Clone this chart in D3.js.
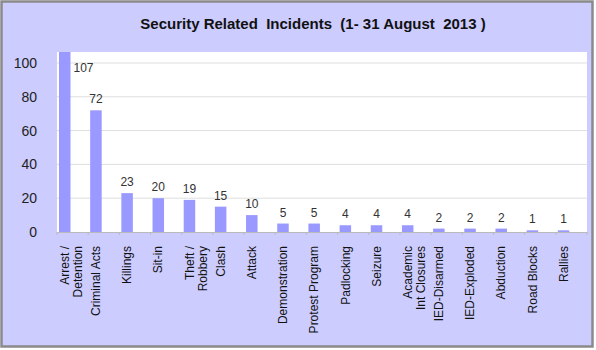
<!DOCTYPE html>
<html>
<head>
<meta charset="utf-8">
<script src="https://cdn.jsdelivr.net/npm/d3@7"></script>
<style>
  body { margin: 0; background: #fff; }
  text { font-family: "Liberation Sans", Arial, sans-serif; }
</style>
</head>
<body>
<svg id="chart"></svg>
<script>
// categories (multi-line labels split on |)
var categories = ['Arrest /|Detention', 'Criminal Acts', 'Killings', 'Sit-in', 'Theft /|Robbery',
  'Clash', 'Attack', 'Demonstration', 'Protest Program', 'Padlocking', 'Seizure',
  'Academic|Int Closures', 'IED-Disarmed', 'IED-Exploded', 'Abduction', 'Road Blocks', 'Rallies'];
var incidents = [107, 72, 23, 20, 19, 15, 10, 5, 5, 4, 4, 4, 2, 2, 2, 1, 1];
var y_ticks = [0, 20, 40, 60, 80, 100];
var title = 'Security Related  Incidents  (1- 31 August  2013 )';

var width = 596, height = 350;
var plot_l = 57, plot_r = 587, plot_t = 52, plot_b = 232;

var svg = d3.select('#chart').attr('width', width).attr('height', height);

// frame
svg.append('rect')
  .attr('x', 1.5).attr('y', 1.5)
  .attr('width', 591).attr('height', 345)
  .style('fill', '#ccccff')
  .style('stroke', '#8a8a8a')
  .style('stroke-width', 2.5);

svg.append('text')
  .attr('x', 313).attr('y', 29)
  .attr('text-anchor', 'middle')
  .style('font-size', '15px')
  .style('font-weight', 'bold')
  .style('white-space', 'pre')
  .style('fill', '#111')
  .text(title);

var x = d3.scaleBand().domain(categories).range([plot_l, plot_r]).padding(0);
var y = d3.scaleLinear().domain([0, 106.5]).range([plot_b, plot_t]);

// plot area
svg.append('rect')
  .attr('x', plot_l).attr('y', plot_t)
  .attr('width', plot_r - plot_l).attr('height', plot_b - plot_t)
  .style('fill', '#fff');

svg.append('clipPath').attr('id', 'plotclip')
  .append('rect')
  .attr('x', plot_l).attr('y', plot_t)
  .attr('width', plot_r - plot_l).attr('height', plot_b - plot_t);

// grid
svg.selectAll('.grid')
  .data(y_ticks.filter(d => d > 0))
  .enter()
  .append('line')
    .attr('class', 'grid')
    .attr('x1', plot_l).attr('x2', plot_r)
    .attr('y1', d => y(d)).attr('y2', d => y(d))
    .style('stroke', '#dedede')
    .style('stroke-width', 1);

// y axis labels
svg.selectAll('.ylab')
  .data(y_ticks)
  .enter()
  .append('text')
    .attr('class', 'ylab')
    .attr('x', 37)
    .attr('y', d => y(d))
    .attr('dy', '0.36em')
    .attr('text-anchor', 'end')
    .style('font-size', '14px')
    .style('fill', '#222')
    .text(d => d);

var bar_off = 2, bar_w = 11.5;

svg.append('g').attr('clip-path', 'url(#plotclip)')
  .selectAll('.bar')
  .data(categories)
  .enter()
  .append('rect')
    .attr('class', 'bar')
    .attr('x', d => x(d) + bar_off)
    .attr('width', bar_w)
    .attr('y', (d, i) => y(incidents[i]))
    .attr('height', (d, i) => plot_b - y(incidents[i]))
    .style('fill', '#9999ff');

// x axis line + ticks
var xaxis = svg.append('g')
  .attr('transform', 'translate(0,' + plot_b + ')')
  .call(d3.axisBottom(x).tickSize(0).tickFormat(''));
xaxis.select('.domain').style('stroke', '#bbb');
xaxis.selectAll('.tk')
  .data(categories.concat(['end']))
  .enter()
  .append('line')
    .attr('class', 'tk')
    .attr('x1', (d, i) => plot_l + i * x.step())
    .attr('x2', (d, i) => plot_l + i * x.step())
    .attr('y1', 0).attr('y2', 3)
    .style('stroke', '#bbb');

// value labels (a bar taller than the axis gets its label beside it)
var ymax = y.domain()[1];
svg.selectAll('.val')
  .data(categories)
  .enter()
  .append('text')
    .attr('class', 'val')
    .attr('x', (d, i) => incidents[i] > ymax ? x(d) + bar_off + bar_w + 3 : x(d) + bar_off + bar_w / 2)
    .attr('y', (d, i) => incidents[i] > ymax ? plot_t + 20 : y(incidents[i]) - 7)
    .attr('text-anchor', (d, i) => incidents[i] > ymax ? 'start' : 'middle')
    .style('font-size', '12px')
    .style('fill', '#333')
    .text((d, i) => incidents[i]);

// category labels, rotated
categories.forEach(function(c) {
  var lines = c.split('|');
  var cx = x(c) + bar_off + bar_w / 2;
  lines.forEach(function(l, j) {
    svg.append('text')
      .attr('transform', 'translate(' + (cx + j * 13) + ',246) rotate(-90)')
      .attr('dy', '0.35em')
      .attr('text-anchor', 'end')
      .style('font-size', '12px')
      .style('fill', '#111')
      .text(l);
  });
});
</script>
</body>
</html>
